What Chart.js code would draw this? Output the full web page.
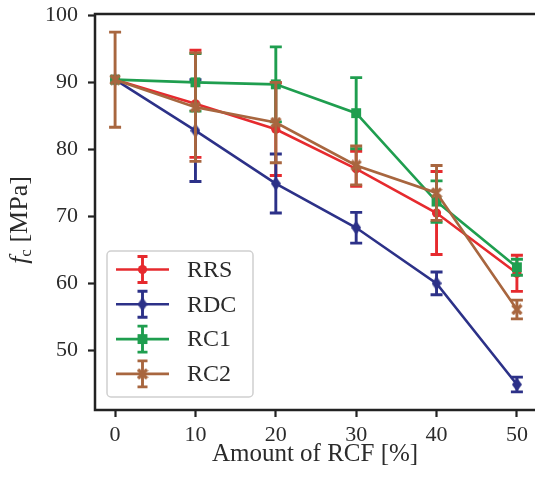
<!DOCTYPE html>
<html>
<head>
<meta charset="utf-8">
<script src="https://cdn.jsdelivr.net/npm/chart.js@4.4.1/dist/chart.umd.min.js"></script>
<style>
html, body { margin: 0; padding: 0; overflow: hidden; background: #fff; }
canvas { display: block; }
</style>
</head>
<body>
<canvas id="fcChart" width="545" height="482"></canvas>
<script>
// compressive strength vs. amount of recycled concrete fines
const rcfAmount = [0, 10, 20, 30, 40, 50];
const xTicks = [0, 10, 20, 30, 40, 50];
const yTicks = [50, 60, 70, 80, 90, 100];

const rrsMean = [90.4, 86.8, 83.0, 77.1, 70.5, 61.5];
const rrsErr  = [0, 8.0, 6.9, 2.6, 6.2, 2.7];
const rdcMean = [90.4, 82.8, 74.9, 68.3, 60.0, 44.9];
const rdcErr  = [0, 7.6, 4.4, 2.3, 1.7, 1.1];
const rc1Mean = [90.4, 90.0, 89.7, 85.4, 72.2, 62.4];
const rc1Err  = [0, 4.3, 5.6, 5.3, 3.1, 1.2];
const rc2Mean = [90.4, 86.3, 84.0, 77.6, 73.5, 56.1];
const rc2Err  = [7.1, 8.1, 6.0, 2.9, 4.1, 1.4];

const FONT = "'Liberation Serif', 'Times New Roman', serif";
const INK = '#2b2b2b';

function thinDiamond(color) {
    const c = document.createElement('canvas');
    c.width = 10; c.height = 14;
    const g = c.getContext('2d');
    g.fillStyle = color;
    g.beginPath();
    g.moveTo(5, 0); g.lineTo(10, 7); g.lineTo(5, 14); g.lineTo(0, 7);
    g.closePath();
    g.fill();
    return c;
}

function filledX(color) {
    const c = document.createElement('canvas');
    c.width = 12; c.height = 12;
    const g = c.getContext('2d');
    g.strokeStyle = color;
    g.lineWidth = 3.4;
    g.beginPath();
    g.moveTo(1.5, 1.5); g.lineTo(10.5, 10.5);
    g.moveTo(10.5, 1.5); g.lineTo(1.5, 10.5);
    g.stroke();
    return c;
}

function series(label, mean, err, color, pointStyle, radius, order) {
    return {
        label,
        data: rcfAmount.map((x, i) => ({x, y: mean[i]})),
        errors: err,
        borderColor: color,
        backgroundColor: color,
        pointBackgroundColor: color,
        pointBorderColor: color,
        pointStyle,
        pointRadius: radius,
        pointBorderWidth: 0,
        borderWidth: 2.6,
        tension: 0,
        order
    };
}

const datasets = [
    series('RRS', rrsMean, rrsErr, '#e62a2e', 'circle', 4.6, 4),
    series('RDC', rdcMean, rdcErr, '#2c3188', thinDiamond('#2c3188'), 5, 3),
    series('RC1', rc1Mean, rc1Err, '#1f9e4f', 'rect', 7, 2),
    series('RC2', rc2Mean, rc2Err, '#a8663f', filledX('#a8663f'), 5, 1)
];

// vertical error bars with caps, drawn right after each dataset
const errorBars = {
    id: 'errorBars',
    afterDatasetDraw(chart, args) {
        const ds = chart.data.datasets[args.index];
        const {x: xs, y: ys} = chart.scales;
        const ctx = chart.ctx;
        ctx.save();
        ctx.strokeStyle = ds.borderColor;
        ctx.lineWidth = 2.9;
        ds.data.forEach((p, i) => {
            const e = ds.errors[i];
            if (!e) return;
            const px = xs.getPixelForValue(p.x);
            const top = ys.getPixelForValue(p.y + e);
            const bot = ys.getPixelForValue(p.y - e);
            ctx.beginPath();
            ctx.moveTo(px, top); ctx.lineTo(px, bot);
            ctx.moveTo(px - 6, top); ctx.lineTo(px + 6, top);
            ctx.moveTo(px - 6, bot); ctx.lineTo(px + 6, bot);
            ctx.stroke();
        });
        ctx.restore();
    }
};

// axes frame, axis titles and the legend box
const decorations = {
    id: 'decorations',
    afterDatasetsDraw(chart) {
        const {ctx, chartArea: a} = chart;
        ctx.save();
        ctx.strokeStyle = '#222';
        ctx.lineWidth = 2.5;
        ctx.strokeRect(a.left, a.top, a.right - a.left, a.bottom - a.top);
        ctx.restore();
    },
    afterDraw(chart) {
        const ctx = chart.ctx;
        ctx.save();
        ctx.fillStyle = INK;

        // x title
        ctx.font = '25px ' + FONT;
        ctx.textAlign = 'center';
        ctx.textBaseline = 'alphabetic';
        ctx.fillText('Amount of RCF [%]', 315, 461);

        // y title: italic f with subscript c
        ctx.translate(27, 220);
        ctx.rotate(-Math.PI / 2);
        ctx.textAlign = 'left';
        const parts = [
            {t: 'f', font: 'italic 26px ' + FONT, dy: 0},
            {t: 'c', font: '17px ' + FONT, dy: 4},
            {t: ' [MPa]', font: '26px ' + FONT, dy: 0}
        ];
        let total = 0;
        parts.forEach(p => { ctx.font = p.font; p.w = ctx.measureText(p.t).width; total += p.w; });
        let cx = -total / 2;
        parts.forEach(p => {
            ctx.font = p.font;
            ctx.fillText(p.t, cx, p.dy);
            cx += p.w;
        });
        ctx.restore();

        // legend
        ctx.save();
        const bx = 107, by = 251, bw = 146, bh = 146;
        ctx.beginPath();
        ctx.roundRect(bx, by, bw, bh, 4);
        ctx.fillStyle = 'rgba(255,255,255,0.8)';
        ctx.fill();
        ctx.strokeStyle = '#d0d0d0';
        ctx.lineWidth = 1.5;
        ctx.stroke();

        ctx.font = '24px ' + FONT;
        ctx.textAlign = 'left';
        ctx.textBaseline = 'middle';
        chart.data.datasets.forEach((ds, i) => {
            const y = 269.5 + i * 34.8;
            const mx = 142.5;
            ctx.strokeStyle = ds.borderColor;
            ctx.lineWidth = 2.6;
            ctx.beginPath();
            ctx.moveTo(116, y); ctx.lineTo(169, y);
            ctx.stroke();
            ctx.lineWidth = 2.9;
            ctx.beginPath();
            ctx.moveTo(mx, y - 13); ctx.lineTo(mx, y + 13);
            ctx.moveTo(mx - 5, y - 13); ctx.lineTo(mx + 5, y - 13);
            ctx.moveTo(mx - 5, y + 13); ctx.lineTo(mx + 5, y + 13);
            ctx.stroke();
            ctx.fillStyle = ds.backgroundColor;
            Chart.helpers.drawPoint(ctx, {
                pointStyle: ds.pointStyle, radius: ds.pointRadius,
                borderWidth: 0, rotation: 0
            }, mx, y);
            ctx.fillStyle = INK;
            ctx.fillText(ds.label, 187, y + 1);
        });
        ctx.restore();
    }
};

new Chart(document.getElementById('fcChart').getContext('2d'), {
    type: 'line',
    data: {datasets},
    options: {
        responsive: false,
        animation: false,
        devicePixelRatio: 1,
        layout: {padding: {top: 14, right: 8, bottom: 0, left: 0}},
        plugins: {legend: {display: false}, tooltip: {enabled: false}},
        scales: {
            x: {
                type: 'linear',
                min: -2.5,
                max: 52.5,
                afterBuildTicks: s => { s.ticks = xTicks.map(v => ({value: v})); },
                afterFit: s => { s.height = 72; s.paddingLeft = 0; s.paddingRight = 0; },
                ticks: {font: {family: FONT, size: 22}, color: INK, padding: 5},
                grid: {drawOnChartArea: false, tickLength: 7, tickColor: '#222', tickWidth: 2.2},
                border: {display: false}
            },
            y: {
                min: 41.1,
                max: 100.2,
                afterBuildTicks: s => { s.ticks = yTicks.map(v => ({value: v})); },
                afterFit: s => { s.width = 95; s.paddingTop = 0; s.paddingBottom = 0; },
                ticks: {font: {family: FONT, size: 22}, color: INK, padding: 10},
                grid: {drawOnChartArea: false, tickLength: 7, tickColor: '#222', tickWidth: 2.2},
                border: {display: false}
            }
        }
    },
    plugins: [errorBars, decorations]
});
</script>
</body>
</html>
